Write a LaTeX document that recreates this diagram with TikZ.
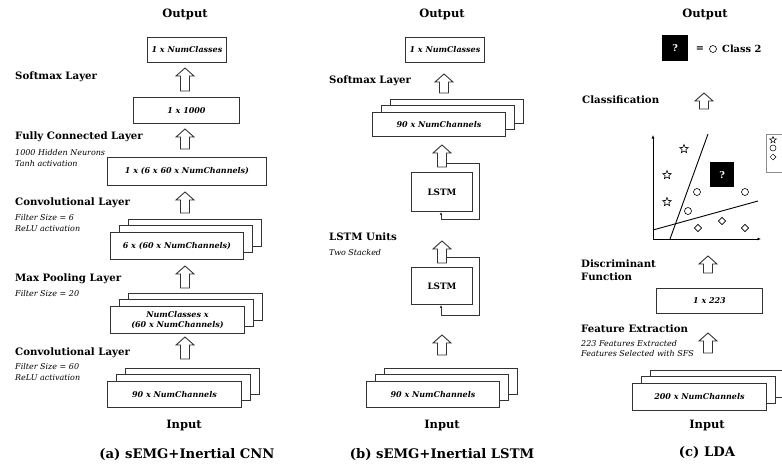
\documentclass[tikz,border=0pt]{standalone}
\usepackage{fontspec}
\setmainfont{DejaVu Serif}
\usetikzlibrary{shapes.geometric,arrows.meta}
\tikzset{
  title/.style={font=\fontsize{11.5}{13}\selectfont\bfseries},
  lab/.style={font=\fontsize{10.2}{12.8}\selectfont\bfseries, anchor=west, align=left, inner sep=0},
  note/.style={font=\fontsize{8}{10.5}\selectfont\itshape, anchor=west, align=left, inner sep=0},
  captext/.style={font=\fontsize{13.2}{15}\selectfont\bfseries},
  boxline/.style={draw=black!80, line width=0.9pt},
  box/.style={boxline, fill=white, font=\fontsize{8}{10}\selectfont\bfseries\itshape, inner sep=0, anchor=north west, align=center},
  lstmbox/.style={boxline, fill=white, font=\fontsize{8.8}{10}\selectfont\bfseries, inner sep=0, anchor=north west},
  hollow/.style={draw=black!80, line width=0.9pt, fill=white, line join=miter},
  loopline/.style={draw=black!80, line width=0.8pt},
  qbox/.style={fill=black, text=white, font=\fontsize{9.5}{10}\selectfont\bfseries, inner sep=0, anchor=north west},
  pt/.style={draw=black, line width=0.6pt, inner sep=0},
  starpt/.style={pt, star, star points=5, star point ratio=2.3, minimum size=9pt},
  circpt/.style={pt, circle, minimum size=7pt},
  diapt/.style={pt, diamond, minimum size=7.5pt},
}
\newcommand\hollowup[3]{% cx, ytop, ybottom
  \draw[hollow] ({#1-4.5},{#3}) -- ({#1-4.5},{#2+8}) -- ({#1-9},{#2+8}) -- ({#1},{#2}) -- ({#1+9},{#2+8}) -- ({#1+4.5},{#2+8}) -- ({#1+4.5},{#3}) -- cycle;}
\newcommand\stackbox[6]{% name, x, y, w, h, text
  \draw[boxline, fill=white] ({#2+18},{#3-13}) rectangle ({#2+18+#4},{#3-13+#5});
  \draw[boxline, fill=white] ({#2+9},{#3-6.5}) rectangle ({#2+9+#4},{#3-6.5+#5});
  \node[box, minimum width=#4pt, minimum height=#5pt] (#1) at (#2,#3) {#6};}
\begin{document}
\begin{tikzpicture}[x=1pt,y=-1pt]
\useasboundingbox (0,0) rectangle (782,467);
\clip (0,0) rectangle (782,467);
% ---------------- (a) CNN ----------------
\node[title] (aout) at (185,14) {Output};
\node[box, minimum width=79pt, minimum height=25pt] (a1) at (147,37) {1 x NumClasses};
\hollowup{185}{68}{91}
\node[lab] (asm) at (15,77) {Softmax Layer};
\node[box, minimum width=106pt, minimum height=26pt] (a2) at (133,97) {1 x 1000};
\hollowup{185}{129}{149}
\node[lab] (afc) at (15,137) {Fully Connected Layer};
\node[note] (afcn) at (15,158) {1000 Hidden Neurons\\Tanh activation};
\node[box, minimum width=159pt, minimum height=28pt] (a3) at (107,157) {1 x (6 x 60 x NumChannels)};
\hollowup{185}{192}{213}
\node[lab] (acv1) at (15,203) {Convolutional Layer};
\node[note] (acv1n) at (15,223) {Filter Size = 6\\ReLU activation};
\stackbox{a4}{110}{232}{133}{27}{6 x (60 x NumChannels)}
\hollowup{185}{266}{288}
\node[lab] (amp) at (15,279) {Max Pooling Layer};
\node[note] (ampn) at (15,294) {Filter Size = 20};
\stackbox{a5}{110}{306}{134}{27}{NumClasses x\\(60 x NumChannels)}
\hollowup{185}{337}{359}
\node[lab] (acv2) at (15,353) {Convolutional Layer};
\node[note] (acv2n) at (15,372) {Filter Size = 60\\ReLU activation};
\stackbox{a6}{107}{381}{134}{26}{90 x NumChannels}
\node[title] (ain) at (184,425) {Input};
\node[captext] (acap) at (187,455) {(a) sEMG+Inertial CNN};
% ---------------- (b) LSTM ----------------
\node[title] (bout) at (442,14) {Output};
\node[box, minimum width=79pt, minimum height=25pt] (b1) at (405,37) {1 x NumClasses};
\hollowup{444}{74}{93}
\node[lab] (bsm) at (329,81) {Softmax Layer};
\stackbox{b2}{372}{112}{133}{24}{90 x NumChannels}
\node[lstmbox, minimum width=61pt, minimum height=39pt] (l1) at (411,172) {LSTM};
\coordinate (l1in) at (441,219);
\draw[loopline] (446.5,163) -- (479,163) -- (479,219) -- (l1in);
\draw[loopline, -{Latex[length=3pt,width=2.6pt]}] (l1in) -- (l1in |- l1.south);
\hollowup{442}{145}{167}
\node[lab] (blu) at (329,237) {LSTM Units};
\node[note] (blun) at (329,253) {Two Stacked};
\node[lstmbox, minimum width=61pt, minimum height=37pt] (l2) at (411,267) {LSTM};
\coordinate (l2in) at (441,315);
\draw[loopline] (446.5,257) -- (479,257) -- (479,315) -- (l2in);
\draw[loopline, -{Latex[length=3pt,width=2.6pt]}] (l2in) -- (l2in |- l2.south);
\hollowup{442}{241}{263}
\hollowup{442}{335}{355}
\stackbox{b3}{366}{381}{133}{26}{90 x NumChannels}
\node[title] (bin) at (442,425) {Input};
\node[captext] (bcap) at (442,455) {(b) sEMG+Inertial LSTM};
% ---------------- (c) LDA ----------------
\node[title] (cout) at (705,14) {Output};
\node[qbox, minimum width=26pt, minimum height=26pt] (q1) at (662,35) {?};
\node[font=\fontsize{9.8}{11}\selectfont\bfseries, inner sep=0] (eq) at (700,49) {=};
\node[circpt] (c0) at (713,49) {};
\node[font=\fontsize{9.8}{11}\selectfont\bfseries, anchor=west, inner sep=0] (cl2) at (722,49) {Class 2};
\node[lab] (ccl) at (582,100) {Classification};
\hollowup{704}{93}{109}
% plot
\coordinate (org) at (653,239);
\draw[line width=0.8pt, -{Latex[length=3.5pt,width=3pt]}] (org) -- (653,135);
\draw[line width=0.8pt, -{Latex[length=3.5pt,width=3pt]}] (org) -- (761,239);
\draw[line width=0.9pt] (670,239) -- (708,134);
\draw[line width=0.9pt] (653,230) -- (758,201);
\node[starpt] (s1) at (684,149) {};
\node[starpt] (s2) at (667,175) {};
\node[starpt] (s3) at (667,202) {};
\node[circpt] (o1) at (697,192) {};
\node[circpt] (o2) at (688,211) {};
\node[circpt] (o3) at (745,192) {};
\node[diapt] (d1) at (698,228) {};
\node[diapt] (d2) at (722,221) {};
\node[diapt] (d3) at (745,228) {};
\node[qbox, minimum width=24pt, minimum height=25pt] (q2) at (710,162) {?};
% legend
\draw[draw=black!45, line width=0.7pt, fill=white] (766,134) rectangle (800,172);
\node[starpt, minimum size=7pt, line width=0.5pt] (ls) at (773,140) {};
\node[circpt, minimum size=6pt, line width=0.5pt] (lc) at (773,148) {};
\node[diapt, minimum size=6pt, line width=0.5pt] (ld) at (773,157) {};
% lower part
\hollowup{708}{256}{273}
\node[lab] (cdf) at (581,270.5) {Discriminant\\Function};
\node[box, minimum width=106pt, minimum height=25pt] (c1) at (656,288) {1 x 223};
\node[lab] (cfe) at (581,329) {Feature Extraction};
\node[note] (cfen) at (581,348.5) {223 Features Extracted\\Features Selected with SFS};
\hollowup{708}{333}{353}
\stackbox{c2}{632}{383}{134}{27}{200 x NumChannels}
\node[title] (cin) at (707,425) {Input};
\node[captext] (ccap) at (707,453) {(c) LDA};
\end{tikzpicture}
\end{document}
